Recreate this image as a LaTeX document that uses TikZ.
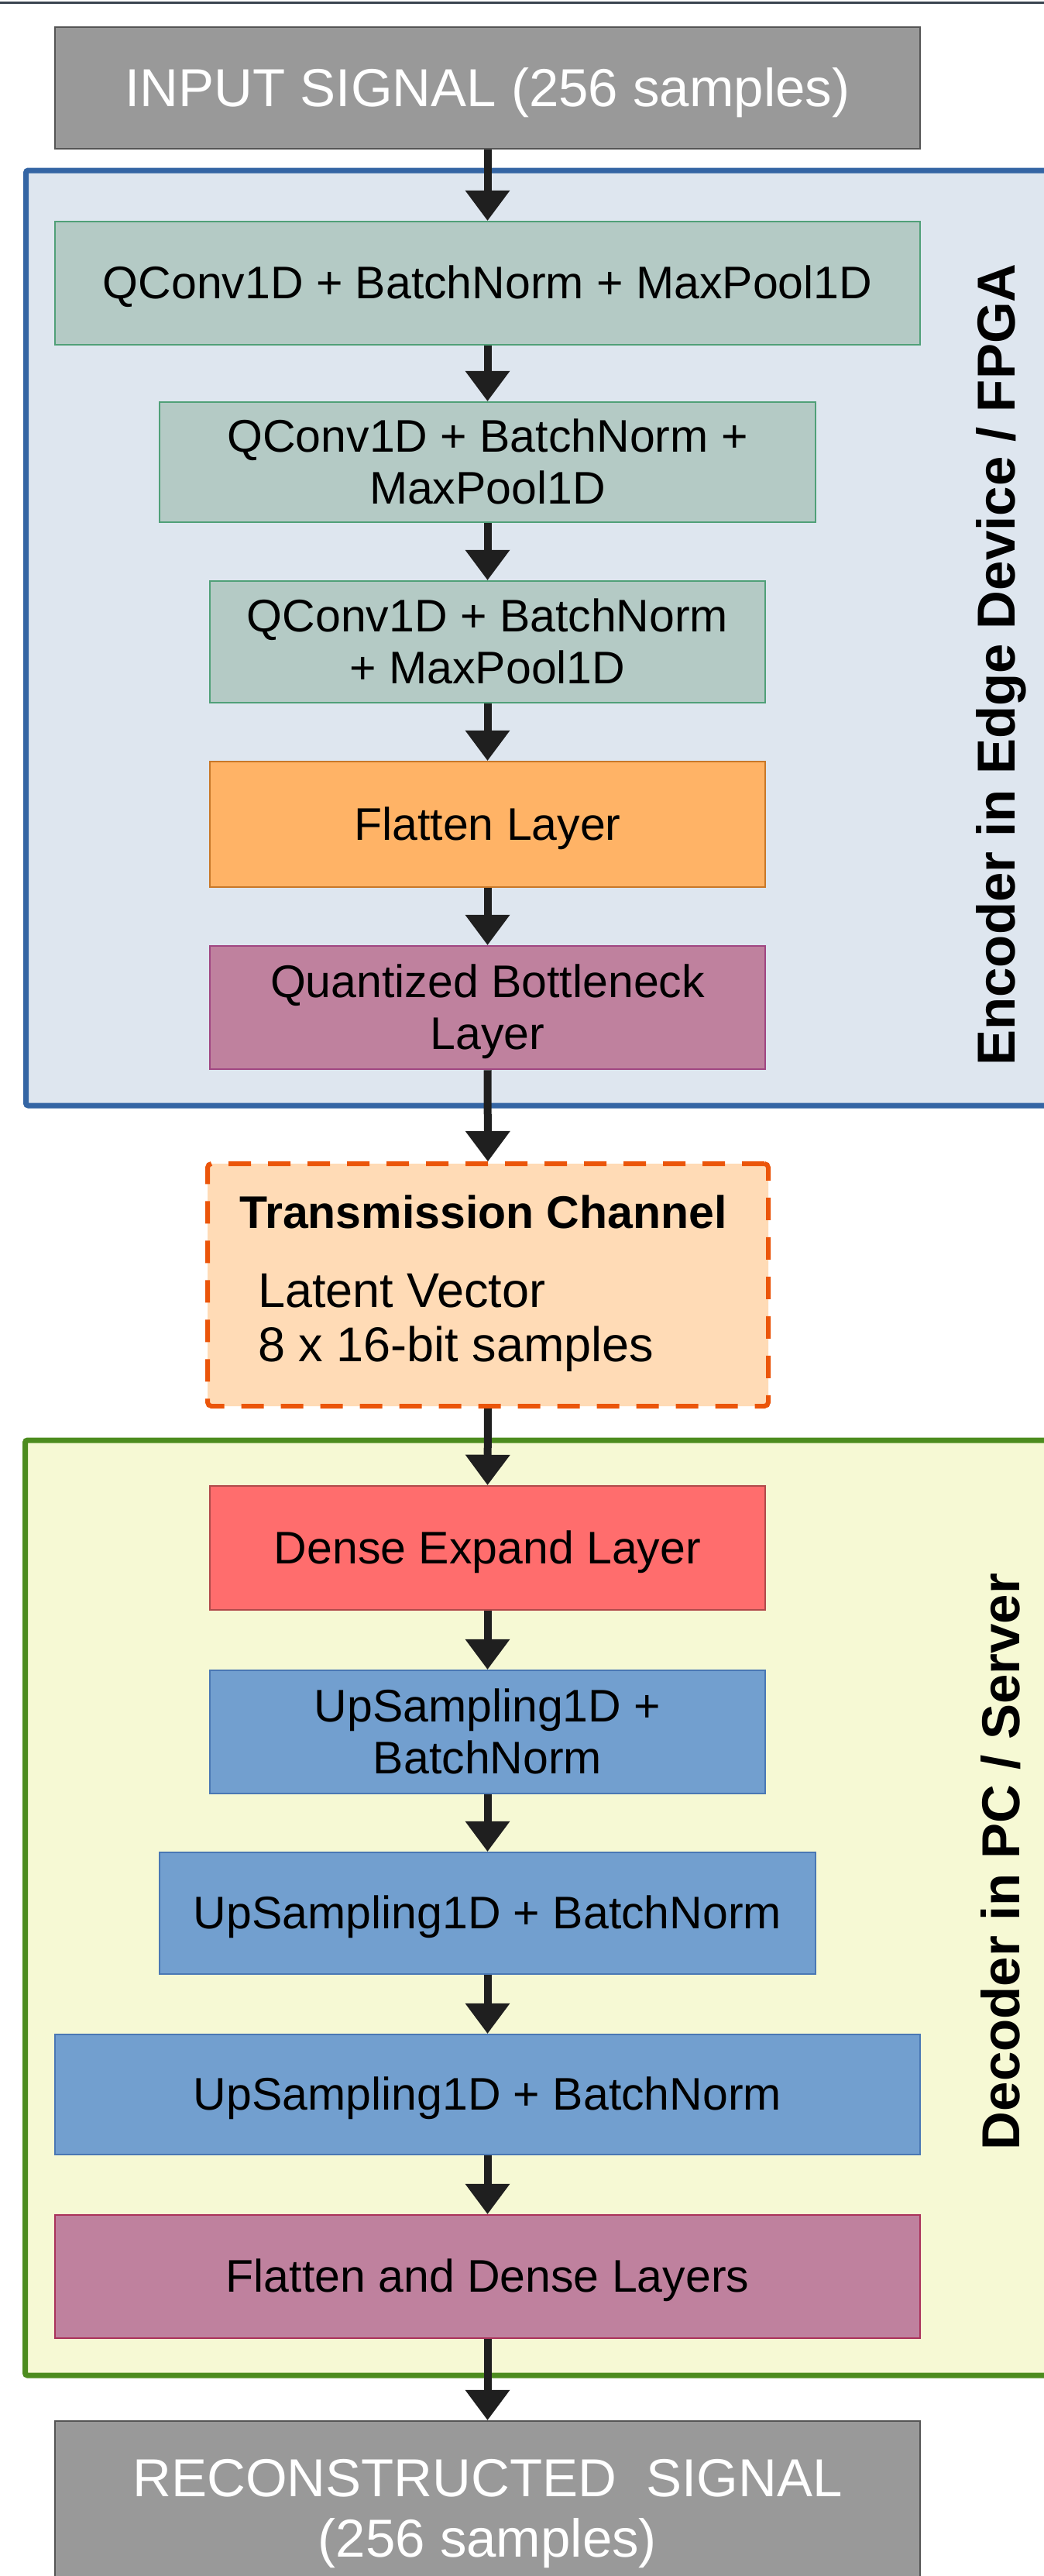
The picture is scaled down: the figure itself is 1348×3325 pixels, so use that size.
\documentclass[tikz,border=0pt]{standalone}
\usepackage{fontspec}
\setmainfont{Liberation Sans}
\usetikzlibrary{arrows.meta}
\definecolor{toplinec}{RGB}{58,68,80}
\definecolor{grayfill}{RGB}{153,153,153}
\definecolor{graydraw}{RGB}{85,85,85}
\definecolor{qfill}{RGB}{180,202,197}
\definecolor{qdraw}{RGB}{80,160,120}
\definecolor{ofill}{RGB}{255,179,102}
\definecolor{odraw}{RGB}{200,120,40}
\definecolor{mfill}{RGB}{191,129,158}
\definecolor{mdraw}{RGB}{160,70,130}
\definecolor{mdrawb}{RGB}{170,50,90}
\definecolor{rfill}{RGB}{255,109,109}
\definecolor{rdraw}{RGB}{176,74,74}
\definecolor{bfill}{RGB}{114,159,207}
\definecolor{bdraw}{RGB}{74,120,180}
\definecolor{encfill}{RGB}{222,230,239}
\definecolor{encdraw}{RGB}{52,101,164}
\definecolor{decfill}{RGB}{246,249,212}
\definecolor{decdraw}{RGB}{76,140,30}
\definecolor{trfill}{RGB}{255,219,182}
\definecolor{trdraw}{RGB}{235,85,10}
\definecolor{arrowc}{RGB}{31,31,31}
\newcommand{\ls}{\rule[-0.212em]{0pt}{1.117em}}
\begin{document}
\begin{tikzpicture}[x=1pt,y=-1pt,
  layer/.style={draw, line width=2.5pt, inner sep=0pt, align=center,
    font=\fontsize{59}{65.9}\selectfont, text=black},
  iobox/.style={draw=graydraw, fill=grayfill, line width=2.5pt, inner sep=0pt, align=center,
    font=\fontsize{69}{77}\selectfont, text=white, minimum width=1117pt},
  qbox/.style={layer, draw=qdraw, fill=qfill},
  obox/.style={layer, draw=odraw, fill=ofill},
  mbox/.style={layer, draw=mdraw, fill=mfill},
  rbox/.style={layer, draw=rdraw, fill=rfill},
  bbox/.style={layer, draw=bdraw, fill=bfill},
  container/.style={line width=7pt, rounded corners=3pt, inner sep=0pt},
  sidelabel/.style={rotate=90, anchor=base, inner sep=0pt,
    font=\fontsize{69}{77}\selectfont\bfseries},
  arr/.style={draw=arrowc, line width=10pt,
    -{Triangle[width=58pt,length=39pt,line width=0pt]}}
]
\useasboundingbox (0,0) rectangle (1348,3325);
\clip (0,0) rectangle (1348,3325);
\fill[white] (0,0) rectangle (1348,3325);
\draw[toplinec, line width=3.5pt] (0,3.3) -- (1348,3.3);

% containers
\node[container, draw=encdraw, fill=encfill, minimum width=1326.5pt, minimum height=1207pt]
  (enc) at (696.75,823.5) {};
\node[container, draw=decdraw, fill=decfill, minimum width=1327.5pt, minimum height=1207pt]
  (dec) at (696.25,2462.5) {};
\node[sidelabel] (enclabel) at (1310,858) {Encoder in Edge Device / FPGA};
\node[sidelabel] (declabel) at (1316,2403) {Decoder in PC / Server};

% input
\node[iobox, minimum height=157pt] (input) at (629.5,113.5) {\ls INPUT SIGNAL (256 samples)};

% encoder layers
\node[qbox, minimum width=1117pt, minimum height=159pt] (b1) at (629.5,365.5)
  {\ls QConv1D + BatchNorm + MaxPool1D};
\node[qbox, minimum width=847pt, minimum height=155pt] (b2) at (629.5,596.5)
  {\ls QConv1D + BatchNorm +\\\ls MaxPool1D};
\node[qbox, minimum width=717pt, minimum height=157pt] (b3) at (629.5,828.5)
  {\ls QConv1D + BatchNorm\\\ls + MaxPool1D};
\node[obox, minimum width=717pt, minimum height=162pt] (flat) at (629.5,1064)
  {\ls Flatten Layer};
\node[mbox, minimum width=717pt, minimum height=159pt] (quant) at (629.5,1300.5)
  {\ls Quantized Bottleneck\\\ls Layer};

% transmission channel
\node[draw=trdraw, fill=trfill, line width=6pt, dash pattern=on 29pt off 22pt,
  rounded corners=5pt, minimum width=724pt, minimum height=313pt, inner sep=0pt]
  (trans) at (630,1658.5) {};
\node[anchor=base, inner sep=0pt, font=\fontsize{59}{66}\selectfont\bfseries]
  (trtitle) at (624,1585) {Transmission Channel};
\node[anchor=base west, inner sep=0pt, font=\fontsize{63}{70}\selectfont]
  (latent1) at (333,1687) {Latent Vector};
\node[anchor=base west, inner sep=0pt, font=\fontsize{63}{70}\selectfont]
  (latent2) at (333,1757) {8 x 16-bit samples};

% decoder layers
\node[rbox, minimum width=717pt, minimum height=160pt] (dense) at (629.5,1998)
  {\ls Dense Expand Layer};
\node[bbox, minimum width=717pt, minimum height=159pt] (up1) at (629.5,2235.5)
  {\ls UpSampling1D +\\\ls BatchNorm};
\node[bbox, minimum width=847pt, minimum height=157pt] (up2) at (629.5,2469.5)
  {\ls UpSampling1D + BatchNorm};
\node[bbox, minimum width=1117pt, minimum height=155pt] (up3) at (629.5,2703.5)
  {\ls UpSampling1D + BatchNorm};
\node[layer, draw=mdrawb, fill=mfill, minimum width=1117pt, minimum height=159pt] (fd) at (629.5,2938.5)
  {\ls Flatten and Dense Layers};

% output
\node[iobox, minimum height=225pt] (recon) at (629.5,3237.5)
  {\ls RECONSTRUCTED~~SIGNAL\\\ls (256 samples)};

% arrows
\draw[arr] (input.south) -- (b1.north);
\draw[arr] (b1.south) -- (b2.north);
\draw[arr] (b2.south) -- (b3.north);
\draw[arr] (b3.south) -- (flat.north);
\draw[arr] (flat.south) -- (quant.north);
\draw[arr] (quant.south) -- (trans.north);
\draw[arr] (trans.south) -- (dense.north);
\draw[arr] (dense.south) -- (up1.north);
\draw[arr] (up1.south) -- (up2.north);
\draw[arr] (up2.south) -- (up3.north);
\draw[arr] (up3.south) -- (fd.north);
\draw[arr] (fd.south) -- (recon.north);
\end{tikzpicture}
\end{document}
